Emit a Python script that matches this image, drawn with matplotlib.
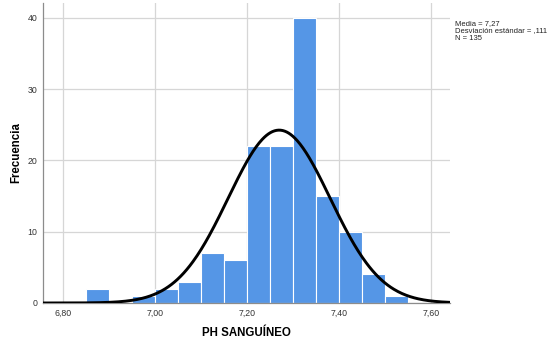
import matplotlib
matplotlib.use('Agg')

import numpy as np
import matplotlib.pyplot as plt

plt.rcParams['font.family'] = ['Liberation Sans', 'DejaVu Sans']

# Histogram data: left edge of each 0.05 bin and its frequency
bin_left = [6.85, 6.90, 6.95, 7.00, 7.05, 7.10, 7.15, 7.20, 7.25, 7.30, 7.35, 7.40, 7.45, 7.50]
counts = [2, 0, 1, 2, 3, 7, 6, 22, 22, 40, 15, 10, 4, 1]
bin_width = 0.05

# Summary statistics
media = 7.27
desviacion = 0.111
n = 135

x_ticks = [6.80, 7.00, 7.20, 7.40, 7.60]
x_tick_labels = ["6,80", "7,00", "7,20", "7,40", "7,60"]
y_ticks = [0, 10, 20, 30, 40]

fig = plt.figure(figsize=(5.49, 3.42), dpi=100)
ax = fig.add_axes([43 / 549, 39 / 342, 407 / 549, 300 / 342])

ax.bar(bin_left, counts, width=bin_width, align='edge',
       color="#5596E6", edgecolor="white", linewidth=0.8, zorder=2)

# Normal curve scaled to counts
xmin, xmax = 6.7558, 7.642
xs = np.linspace(xmin, xmax, 400)
ys = n * bin_width / (desviacion * np.sqrt(2 * np.pi)) * np.exp(-0.5 * ((xs - media) / desviacion) ** 2)
ax.plot(xs, ys, color="black", linewidth=2.1, zorder=3, solid_capstyle='butt')

ax.set_xlim(xmin, xmax)
ax.set_ylim(0, 42.1)

ax.set_xticks(x_ticks)
ax.set_xticklabels(x_tick_labels)
ax.set_yticks(y_ticks)
ax.tick_params(length=0, labelsize=6.3, labelcolor="#333333", pad=4)

ax.grid(True, color="#d6d6d6", linewidth=0.9, zorder=0)
ax.set_axisbelow(True)

for side in ["top", "right"]:
    ax.spines[side].set_visible(False)
ax.spines["left"].set_color("#8c8c8c")
ax.spines["bottom"].set_color("#8c8c8c")
ax.spines["left"].set_linewidth(0.9)
ax.spines["bottom"].set_linewidth(0.9)

ax.set_xlabel("PH SANGUÍNEO", fontsize=8.3, fontweight="bold", va="center")
ax.set_ylabel("Frecuencia", fontsize=8.3, fontweight="bold", va="center")
ax.xaxis.set_label_coords(0.5, -0.1)
ax.yaxis.set_label_coords(-0.066, 0.5)

fig.text(455 / 549, 1 - 20 / 342,
         "Media = 7,27\nDesviación estándar = ,111\nN = 135",
         fontsize=5.5, va="top", ha="left", color="#222222", linespacing=1.05)

plt.savefig("out.png", dpi=100)
